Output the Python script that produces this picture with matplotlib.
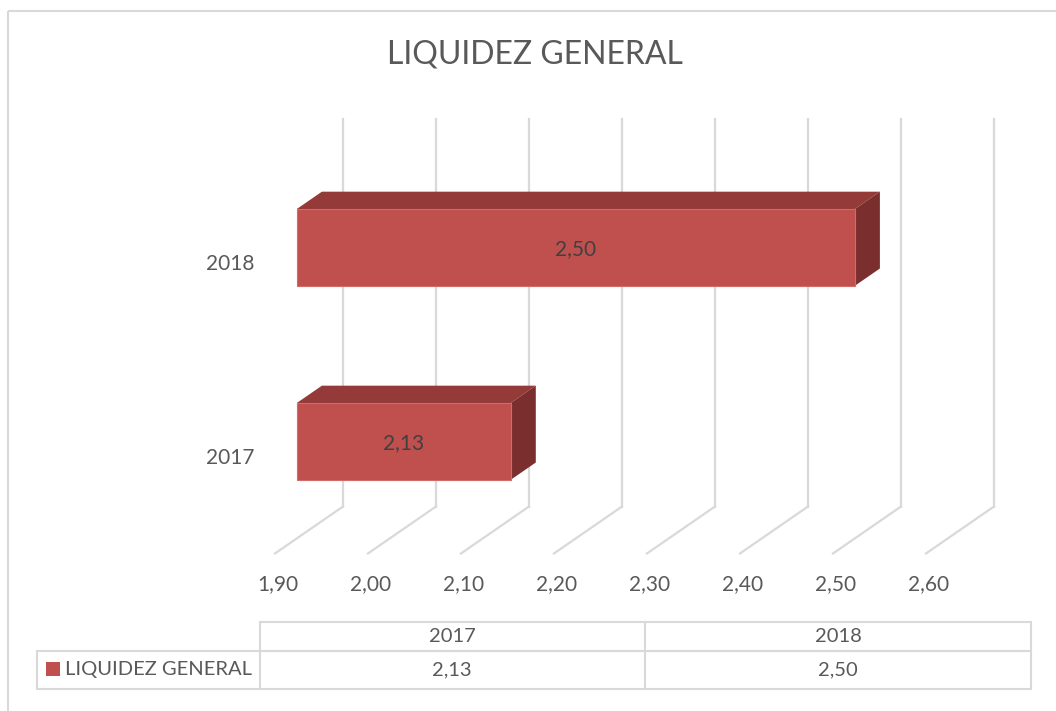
import matplotlib.pyplot as plt
from matplotlib.patches import Polygon, Rectangle

# data
years = ['2017', '2018']
liquidez = [2.13, 2.50]
ticks = [1.90, 2.00, 2.10, 2.20, 2.30, 2.40, 2.50, 2.60]
serie = 'LIQUIDEZ GENERAL'


def coma(v):
    return f'{v:.2f}'.replace('.', ',')


plt.rcParams['font.family'] = ['Lato', 'DejaVu Sans']
txt = '#595959'
grid = '#D9D9D9'
front, top, side = '#C0504D', '#943A38', '#7A2F2E'

W, H = 1056, 711
fig = plt.figure(figsize=(W / 100, H / 100), dpi=100)

# chart: x in value units, y in category units (oblique 3D look)
ax = fig.add_axes([0, 0, 1, 1])
ax.set_xlim(1.6043, 2.7398)
ax.set_ylim(-1.312, 2.353)
ax.axis('off')

base = ticks[0]
dx, dy = 0.0731, 0.242      # depth offset floor -> back wall
floor, ceil = -0.5, 1.5
f0, f1 = 0.32, 0.69         # bar front / back depth
h = 0.198                   # bar half height

for t in ticks:
    ax.plot([t + dx, t + dx], [floor + dy, ceil + dy], color=grid, lw=1.6, zorder=1)
    ax.plot([t, t + dx], [floor, floor + dy], color=grid, lw=1.6, zorder=1)
    ax.text(t + 0.003, floor - 0.16, coma(t), ha='center', va='center', fontsize=15, color=txt)

for i, (yr, v) in enumerate(zip(years, liquidez)):
    c = i
    ax.add_patch(Polygon([(base + f0 * dx, c + h + f0 * dy), (v + f0 * dx, c + h + f0 * dy),
                          (v + f1 * dx, c + h + f1 * dy), (base + f1 * dx, c + h + f1 * dy)],
                         closed=True, fc=top, ec='none', zorder=3))
    ax.add_patch(Polygon([(v + f0 * dx, c - h + f0 * dy), (v + f1 * dx, c - h + f1 * dy),
                          (v + f1 * dx, c + h + f1 * dy), (v + f0 * dx, c + h + f0 * dy)],
                         closed=True, fc=side, ec='none', zorder=3))
    ax.add_patch(Rectangle((base + f0 * dx, c - h + f0 * dy), v - base, 2 * h,
                           fc=front, ec='#D06B68', lw=0.8, zorder=4))
    ax.text((base + v) / 2 + f0 * dx, c + f0 * dy - 0.01, coma(v), ha='center', va='center',
            fontsize=15, color='#404040', zorder=5)
    ax.text(base - 0.022, c - 0.01, yr, ha='right', va='center', fontsize=15, color=txt)

fig.text(535 / W, 1 - 55 / H, serie, ha='center', va='center', fontsize=23, color=txt)

# data table + border, pixel coords
tb = fig.add_axes([0, 0, 1, 1])
tb.set_xlim(0, W)
tb.set_ylim(H, 0)
tb.axis('off')
tb.patch.set_alpha(0)

tb.add_patch(Rectangle((8, 11), W, H, fill=False, ec=grid, lw=1.5))
tb.add_patch(Rectangle((260, 622), 771, 29, fill=False, ec=grid, lw=1.5))
tb.add_patch(Rectangle((37, 651), 994, 38, fill=False, ec=grid, lw=1.5))
tb.plot([260, 260], [651, 689], color=grid, lw=1.5)
tb.plot([645, 645], [622, 689], color=grid, lw=1.5)

cols = [452, 838]
for xc, yr, v in zip(cols, years, liquidez):
    tb.text(xc, 636, yr, ha='center', va='center', fontsize=14.5, color=txt)
    tb.text(xc, 670, coma(v), ha='center', va='center', fontsize=14.5, color=txt)
tb.add_patch(Rectangle((46, 662), 14, 14, fc=front, ec='none'))
tb.text(65, 669, serie, ha='left', va='center', fontsize=14.5, color=txt)

fig.savefig('out.png', dpi=100)
